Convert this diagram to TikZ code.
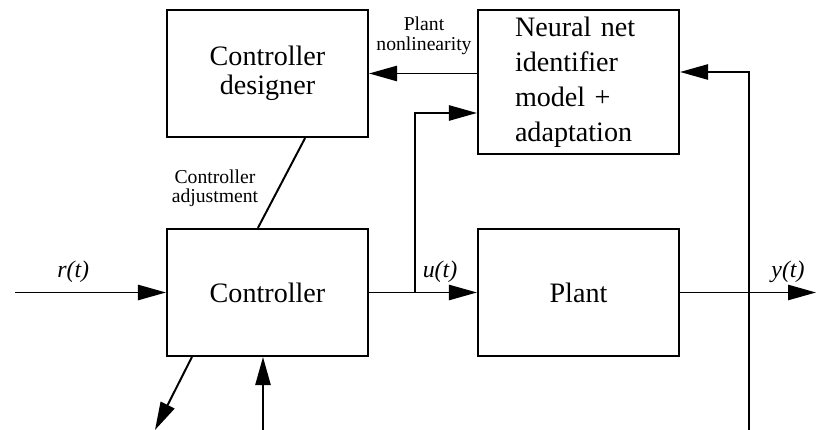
\documentclass[tikz,border=0pt]{standalone}
\usepackage{fontspec}
\setmainfont{Liberation Serif}
\usetikzlibrary{positioning,calc,arrows.meta}
\tikzstyle{block}=[align=center, draw=black, line width=1.5pt, rectangle, font=\fontsize{20}{20.6}\selectfont]
\tikzstyle{box}=[block, minimum height=3.175cm, minimum width=5.025cm, inner sep=0pt]
\tikzstyle{my arrow}=[-{Triangle[length=7mm,width=3.8mm]}, line width=1.4pt]
\tikzstyle{wire}=[line width=1.4pt]
\tikzstyle{small label}=[align=center, font=\fontsize{14}{13.8}\selectfont, inner sep=0pt]
\tikzstyle{signal}=[font=\fontsize{17}{17}\selectfont\itshape, inner sep=0pt]
\begin{document}
\begin{tikzpicture}
\useasboundingbox (0,0) rectangle (20.4,10.75);

\draw (6.6875,3.4375) node[box] (Ctrl) {Controller};
\draw (Ctrl) ++(0,5.475) node[box] (Designer) {Controller\\designer};
\draw (Ctrl) ++(7.775,0) node[box] (Plant) {Plant};
\draw (Plant) ++(0,5.2625) node[box, minimum height=3.6cm, text width=3.175cm,
  align=left, font=\fontsize{20}{24.8}\selectfont] (Identifier)
{Neural net\\identifier\\model +\\adaptation};

% free ends of the signals
\coordinate (rin) at (0.375,3.4375);
\coordinate (yout) at (20.4,3.4375);
\coordinate (split) at (10.375,3.4375);
\coordinate (meas) at (18.725,0);
\coordinate (ctrlout) at (3.875,0);
\coordinate (ctrlin) at (6.575,0);

\draw[my arrow] (rin) -- (Ctrl);
\draw[my arrow] (Ctrl) -- (Plant);
\draw[my arrow] (split) |- ($(Identifier.west)+(0,-0.775)$);
\draw[my arrow] (Plant) -- (yout);
\draw[my arrow] (meas) |- ($(Identifier.east)+(0,0.25)$);
\draw[my arrow] (Identifier.west |- Designer) -- (Designer.east);
\draw[wire] ($(Designer.south)+(0.94,0)$) -- ($(Ctrl.north)+(-0.24,0)$);
\draw[my arrow] ($(Ctrl.south)+(-1.89,0)$) -- (ctrlout);
\draw[my arrow] (ctrlin) -- (ctrlin |- Ctrl.south);

\node[signal] (rlabel) at (1.83,3.95) {r(t)};
\node[signal] (ulabel) at (11.0,3.95) {u(t)};
\node[signal] (ylabel) at (19.7,3.95) {y(t)};
\node[small label] (nonlin) at (10.6,9.85) {Plant\\nonlinearity};
\node[small label] (adjust) at (5.375,6.05) {Controller\\adjustment};

\end{tikzpicture}
\end{document}
